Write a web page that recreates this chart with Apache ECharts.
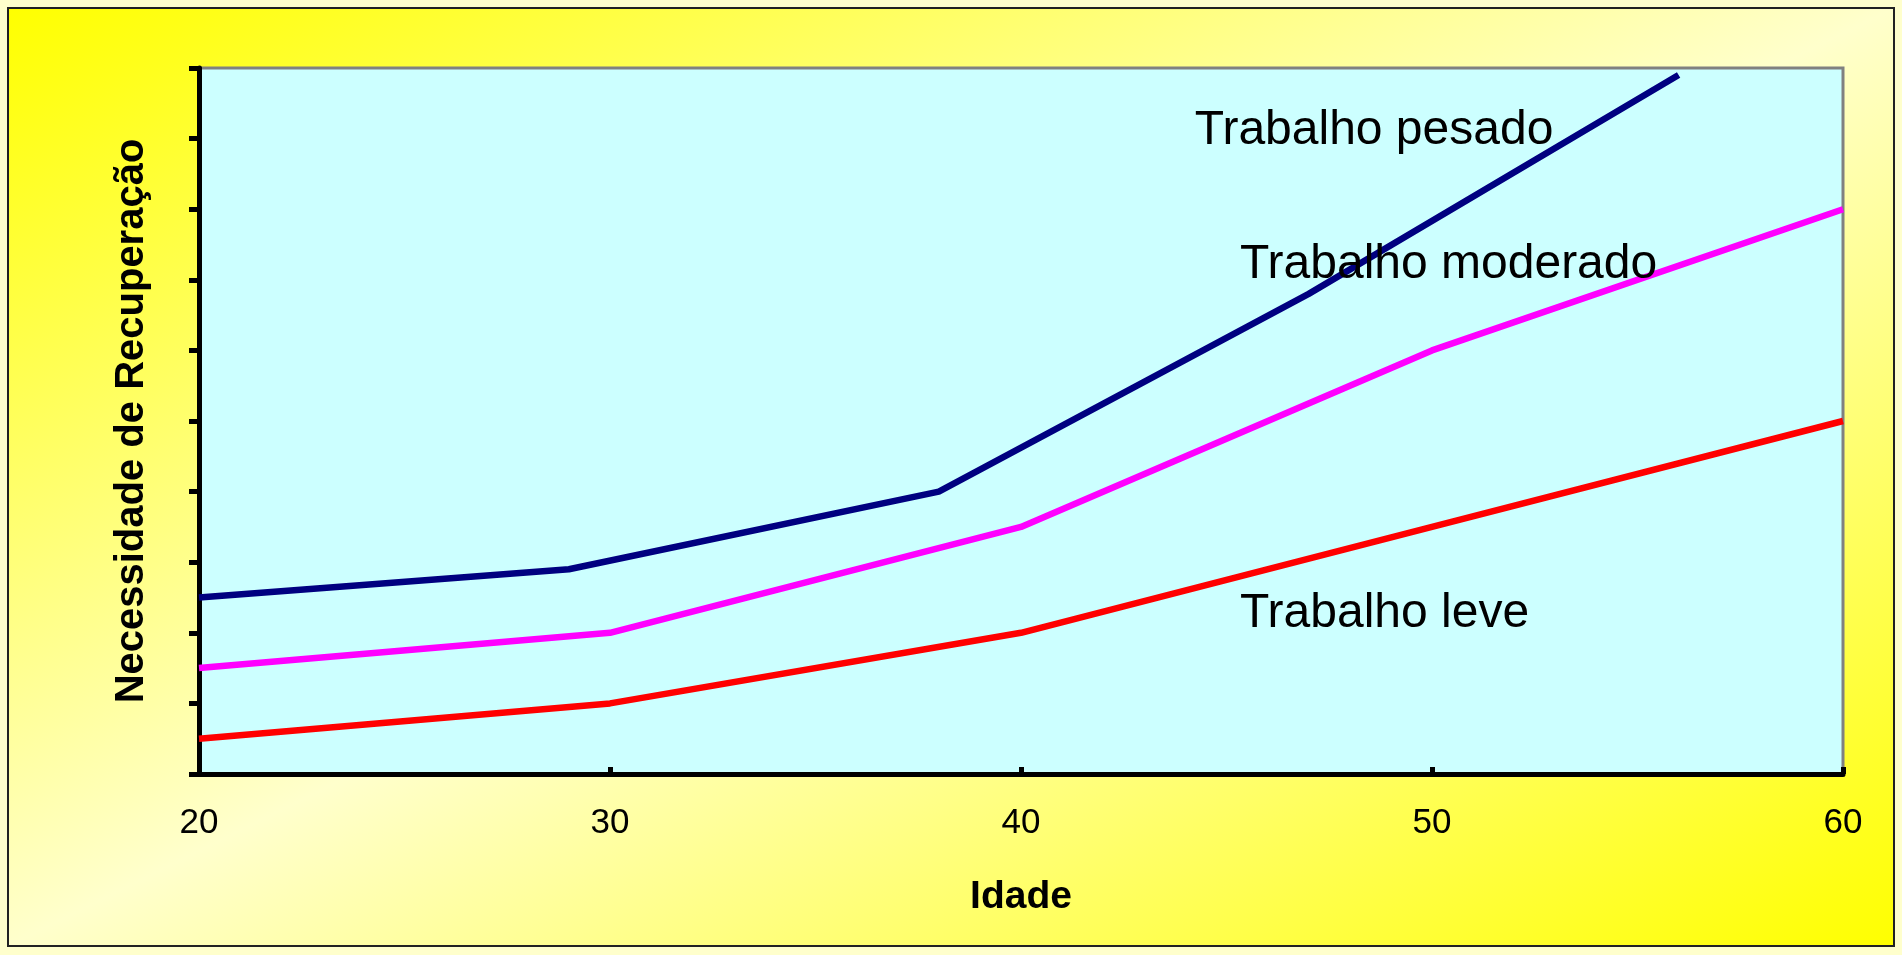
<!DOCTYPE html>
<html>
<head>
<meta charset="utf-8">
<style>
  html, body { margin: 0; padding: 0; background: #FFFFCC; }
  #chart { width: 1902px; height: 955px; }
</style>
<script src="https://cdn.jsdelivr.net/npm/echarts@6/dist/echarts.min.js"></script>
</head>
<body>
<div id="chart"></div>
<script>
// ---- data ----
const xTicks = [20, 30, 40, 50, 60];
const idadeLeveModerado = [20, 30, 40, 50, 60];
const trabalhoLeve = [0.5, 1, 2, 3.5, 5];
const trabalhoModerado = [1.5, 2, 3.5, 6, 8];
const idadePesado = [20, 29, 38, 47, 56];
const trabalhoPesado = [2.5, 2.9, 4, 6.8, 9.9];
const seriesNames = ['Trabalho pesado', 'Trabalho moderado', 'Trabalho leve'];

const FONT = 'Arial, "Liberation Sans", sans-serif';
const W = 1902, H = 955;

function pairs(xs, ys) { return xs.map((x, i) => [x, ys[i]]); }

// diagonal gradient frame (corner to corner, like "to bottom right")
const bx = 8, by = 8, bw = W - 16, bh = H - 17;
const cx = bx + bw / 2, cy = by + bh / 2;
const nrm = Math.sqrt(bw * bw + bh * bh);
const ux = bh / nrm, uy = bw / nrm;
const half = ((bw / 2) * ux + (bh / 2) * uy);
const grad = new echarts.graphic.LinearGradient(
  cx - half * ux, cy - half * uy, cx + half * ux, cy + half * uy,
  [{ offset: 0, color: '#FFFF00' }, { offset: 0.5, color: '#FFFFCC' }, { offset: 1, color: '#FFFF00' }],
  true
);

const chart = echarts.init(document.getElementById('chart'), null, { renderer: 'canvas' });
const option = {
  backgroundColor: '#FFFFCC',
  animation: false,
  graphic: [{
    type: 'rect',
    z: -100,
    silent: true,
    shape: { x: bx, y: by, width: bw, height: bh },
    style: { fill: grad, stroke: '#222222', lineWidth: 2 }
  }],
  grid: {
    left: 199, right: 59, top: 68, bottom: 181,
    show: true,
    backgroundColor: '#CCFFFF',
    borderColor: '#808080',
    borderWidth: 3
  },
  xAxis: {
    type: 'value',
    min: xTicks[0], max: xTicks[xTicks.length - 1], interval: 10,
    splitLine: { show: false },
    axisLine: { show: true, onZero: false, lineStyle: { color: '#000', width: 5 } },
    axisTick: { show: true, inside: true, length: 7, lineStyle: { color: '#000', width: 5 } },
    axisLabel: { fontSize: 35, color: '#000', fontFamily: FONT, margin: 32 },
    name: 'Idade',
    nameLocation: 'middle',
    nameGap: 104,
    nameTextStyle: { fontSize: 39, fontWeight: 'bold', color: '#000', fontFamily: FONT }
  },
  yAxis: {
    type: 'value',
    min: 0, max: 10, interval: 1,
    splitLine: { show: false },
    axisLine: { show: true, lineStyle: { color: '#000', width: 5 } },
    axisTick: { show: true, inside: false, length: 10, lineStyle: { color: '#000', width: 5 } },
    axisLabel: { show: false },
    name: 'Necessidade de Recuperação',
    nameLocation: 'middle',
    nameGap: 47,
    nameTextStyle: { fontSize: 40, fontWeight: 'bold', color: '#000', fontFamily: FONT }
  },
  series: [
    {
      name: seriesNames[0], type: 'line', showSymbol: false, symbol: 'none',
      data: pairs(idadePesado, trabalhoPesado),
      lineStyle: { color: '#000080', width: 6.5 }, z: 3
    },
    {
      name: seriesNames[1], type: 'line', showSymbol: false, symbol: 'none',
      data: pairs(idadeLeveModerado, trabalhoModerado),
      lineStyle: { color: '#FF00FF', width: 6.5 }, z: 3
    },
    {
      name: seriesNames[2], type: 'line', showSymbol: false, symbol: 'none',
      data: pairs(idadeLeveModerado, trabalhoLeve),
      lineStyle: { color: '#FF0000', width: 6.5 }, z: 3
    },
    {
      type: 'scatter', symbolSize: 0, silent: true, z: 5,
      itemStyle: { opacity: 1 },
      data: [
        { value: [44.23, 9.11], name: seriesNames[0] },
        { value: [45.33, 7.22], name: seriesNames[1] },
        { value: [45.33, 2.27], name: seriesNames[2] }
      ],
      label: {
        show: true, position: 'right', distance: 0, opacity: 1,
        formatter: p => p.name,
        fontSize: 48, color: '#000000', textBorderWidth: 0, fontWeight: 'normal', fontFamily: FONT
      }
    }
  ]
};
chart.setOption(option);
</script>
</body>
</html>
